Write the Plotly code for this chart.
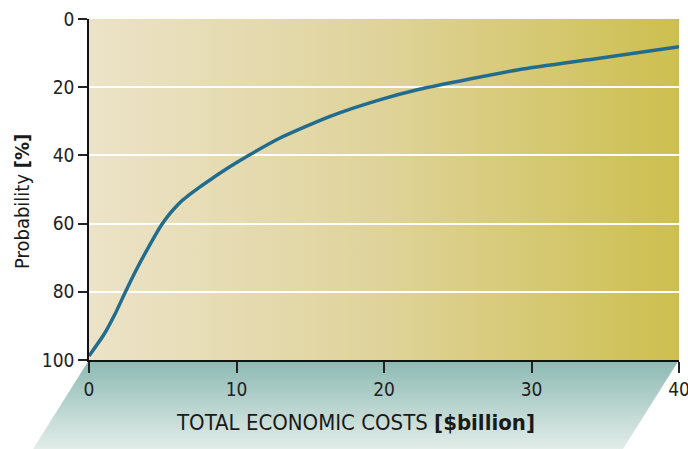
import plotly.graph_objects as go

# ---- data ----
cost_billion = [0, 1.0, 1.8, 2.45, 3.2, 4.0, 4.9, 5.4, 5.8, 6.3, 6.7, 7.5, 8.3, 9.6,
                10.9, 12.95, 16.3, 19.7, 22.4, 25.8, 29.2, 34.6, 40]
probability_pct = [98.8, 92.6, 86.2, 80.2, 73.6, 67.2, 60.5, 57.5, 55.5, 53.3, 51.9,
                   49.3, 46.9, 43.2, 39.8, 34.9, 28.6, 23.7, 20.6, 17.6, 14.8, 11.5, 8.1]
x_ticks = [0, 10, 20, 30, 40]
y_ticks = [0, 20, 40, 60, 80, 100]

W, H = 688, 449
# plot-area domain (paper fractions)
dx0, dx1 = 89 / W, 679 / W
dy0, dy1 = 1 - 360 / H, 1 - 19 / H
slant = 56 / W

FONT = "DejaVu Sans Condensed, Liberation Sans Narrow, sans-serif"

fig = go.Figure()

# decoration layer (full-paper axes, drawn first / below)
fig.add_trace(go.Scatter(
    x=[dx0, dx1, dx1, dx0, dx0], y=[dy0, dy0, dy1, dy1, dy0],
    xaxis="x", yaxis="y", mode="lines", line=dict(width=0),
    fill="toself", fillgradient=dict(type="horizontal",
                                     colorscale=[[0, "#ece3c8"], [0.5, "#dfd39a"], [1, "#cdbf4f"]]),
    hoverinfo="skip", showlegend=False))
fig.add_trace(go.Scatter(
    x=[dx0, dx1, dx1 - slant, dx0 - slant, dx0], y=[dy0, dy0, 0, 0, dy0],
    xaxis="x", yaxis="y", mode="lines", line=dict(width=0),
    fill="toself", fillgradient=dict(type="vertical",
                                     colorscale=[[0, "#e3ede9"], [1, "#8cb9b3"]]),
    hoverinfo="skip", showlegend=False))

# data curve
fig.add_trace(go.Scatter(
    x=cost_billion, y=probability_pct, xaxis="x2", yaxis="y2",
    mode="lines", line=dict(color="#226c8e", width=3.5, shape="spline", smoothing=0.6),
    showlegend=False))

fig.update_layout(
    width=W, height=H,
    margin=dict(l=0, r=0, t=0, b=0, autoexpand=False),
    paper_bgcolor="white", plot_bgcolor="rgba(0,0,0,0)",
    font=dict(family=FONT, size=19, color="#222222"),
    xaxis=dict(domain=[0, 1], range=[0, 1], visible=False, fixedrange=True, automargin=False),
    yaxis=dict(domain=[0, 1], range=[0, 1], visible=False, fixedrange=True, automargin=False),
    xaxis2=dict(domain=[dx0, dx1], range=[0, 40], anchor="y2", automargin=False,
                tickvals=x_ticks, ticks="outside", ticklen=11, tickwidth=1.5,
                tickcolor="#222", showline=True, linecolor="#111", linewidth=1.5,
                showgrid=False, zeroline=False, ticklabeloverflow="allow",
                tickfont=dict(family=FONT, size=19, color="#222")),
    yaxis2=dict(domain=[dy0, dy1], range=[100, 0], anchor="x2", automargin=False,
                tickvals=y_ticks, ticks="outside", ticklen=9, tickwidth=1.5,
                tickcolor="#222", showline=True, linecolor="#111", linewidth=1.5,
                showgrid=True, gridcolor="white", gridwidth=1.5, zeroline=False,
                ticklabeloverflow="allow",
                tickfont=dict(family=FONT, size=19, color="#222")),
    annotations=[
        dict(text="TOTAL ECONOMIC COSTS <b>[$billion]</b>", xref="paper", yref="paper",
             x=355 / W, y=1 - 422 / H, showarrow=False, xanchor="center", yanchor="middle",
             font=dict(family=FONT, size=22, color="#1a1a1a")),
        dict(text="Probability <b>[%]</b>", xref="paper", yref="paper",
             x=22 / W, y=1 - 202 / H, showarrow=False, textangle=-90,
             xanchor="center", yanchor="middle",
             font=dict(family=FONT, size=20, color="#1a1a1a")),
    ],
)

fig.write_html("out.html")
